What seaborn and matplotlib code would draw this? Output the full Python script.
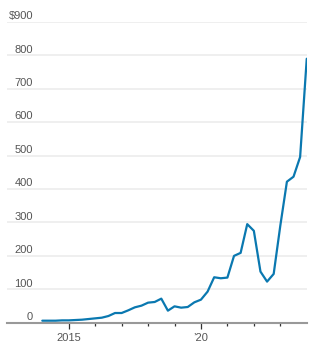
import numpy as np
import pandas as pd
import matplotlib
matplotlib.use("Agg")
import matplotlib.pyplot as plt
import seaborn as sns

# Quarterly series
quarters = pd.period_range("2014Q1", "2024Q1", freq="Q")
values = [6, 6, 6, 7, 7, 8, 9, 11, 13, 15, 20, 29, 29, 37, 46, 51, 60, 62, 72,
          36, 49, 45, 47, 61, 69, 93, 136, 133, 135, 200, 209, 295, 275, 153,
          123, 146, 290, 422, 437, 496, 790]

y_ticks = [0, 100, 200, 300, 400, 500, 600, 700, 800, 900]
y_labels = ["0", "100", "200", "300", "400", "500", "600", "700", "800", "$900"]
x_major = [2015, 2020]
x_major_labels = ["2015", "\u201920"]
x_minor = [2016, 2017, 2018, 2019, 2021, 2022, 2023]

df = pd.DataFrame({
    "t": [q.year + (q.quarter - 1) / 4 for q in quarters],
    "v": values,
})

sns.set_theme(style="white")
plt.rcParams["font.family"] = ["Liberation Sans", "DejaVu Sans"]

W, H = 323, 354
fig = plt.figure(figsize=(W / 100, H / 100), dpi=100)
left_px, right_px, top_px, bot_px = 7, 307, 22, 322.7
ax = fig.add_axes([left_px / W, (H - bot_px) / H, (right_px - left_px) / W, (bot_px - top_px) / H])

sns.lineplot(data=df, x="t", y="v", ax=ax, color="#0a78b0", linewidth=1.6, zorder=3)

ax.set_xlim(2012.665, 2024.01)
ax.set_ylim(0, 900)

# grid
ax.set_yticks(y_ticks)
ax.set_yticklabels([])
ax.tick_params(axis="y", length=0)
ax.yaxis.grid(True, color="#eeeeee", linewidth=1.3, zorder=0)
ax.xaxis.grid(False)

for v, lab in zip(y_ticks, y_labels):
    ax.annotate(lab, xy=(0.0867, v), xycoords=("axes fraction", "data"),
                xytext=(0, 2.0), textcoords="offset points",
                ha="right", va="baseline", fontsize=8, color="#555555")

# x axis
ax.set_xticks(x_major)
ax.set_xticklabels(x_major_labels)
ax.set_xticks(x_minor, minor=True)
ax.tick_params(axis="x", which="major", length=4.3, width=0.9, color="#333333",
               direction="out", pad=3, labelsize=8, labelcolor="#555555", bottom=True)
ax.tick_params(axis="x", which="minor", length=2.0, width=0.9, color="#333333",
               direction="out", bottom=True)

for s in ["top", "right", "left"]:
    ax.spines[s].set_visible(False)
ax.spines["bottom"].set_color("#999999")
ax.spines["bottom"].set_linewidth(1.5)
ax.spines["bottom"].set_zorder(4)

ax.set_xlabel("")
ax.set_ylabel("")
ax.set_facecolor("white")
fig.patch.set_facecolor("white")

fig.savefig("out.png", dpi=100)
